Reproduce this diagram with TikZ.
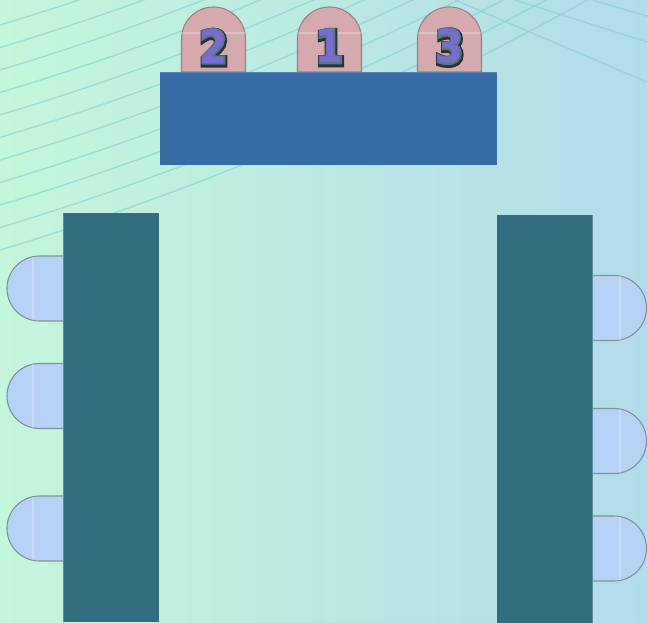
\documentclass[tikz,border=0pt]{standalone}
\usepackage{fontspec}
\newfontfamily\digfont{DejaVu Sans Bold}
\newfontfamily\digmidfont{DejaVu Sans Bold}[FakeBold=7]
\newfontfamily\digoutfont{DejaVu Sans Bold}[FakeBold=14]
\definecolor{bgleft}{RGB}{196,246,219}
\definecolor{bgright}{RGB}{178,220,234}
\definecolor{bgline}{RGB}{130,205,212}
\definecolor{toptable}{RGB}{56,108,166}
\definecolor{sidetable}{RGB}{51,110,128}
\definecolor{pinkchair}{RGB}{212,170,174}
\definecolor{pinkedge}{RGB}{150,130,134}
\definecolor{bluechair}{RGB}{182,210,245}
\definecolor{blueedge}{RGB}{128,144,160}
\definecolor{digfill}{RGB}{120,108,204}
\definecolor{digmid}{RGB}{90,118,128}
\definecolor{digdark}{RGB}{38,52,58}
\tikzset{
  bgrule/.style={draw=bgline, line width=1.1pt, opacity=0.55},
  topchairstyle/.style={fill=pinkchair, draw=pinkedge, line width=0.8pt},
  sidechairstyle/.style={fill=bluechair, draw=blueedge, line width=0.8pt},
  digitstyle/.style={font=\fontsize{34}{34}\selectfont, inner sep=0pt, xscale=0.88},
  sheen/.style={draw=white, line width=1pt, opacity=0.25}
}
\newcommand\layereddigit[1]{%
  \makebox[0pt]{\hspace{1pt}\raisebox{-1pt}{\color{digdark}\digoutfont #1}}%
  \makebox[0pt]{\color{digmid}\digmidfont #1}%
  \makebox[0pt]{\color{digfill}\digfont #1}}
\newcommand\topchair[2]{%
  \begin{scope}[shift={(#1,0)}]
    \draw[topchairstyle] (-32,72) -- (-32,39) .. controls (-32,21.3) and (-17.7,7) .. (0,7)
      .. controls (17.7,7) and (32,21.3) .. (32,39) -- (32,72) -- cycle;
    \draw[sheen] (-31.5,33) -- (31.5,33);
    \node[digitstyle] (digit#2) at (0,47) {\layereddigit{#2}};
  \end{scope}}
\newcommand\leftchair[1]{%
  \begin{scope}[shift={(0,#1)}]
    \draw[sidechairstyle] (66,0) -- (39.5,0) .. controls (21.55,0) and (7,14.55) .. (7,32.5)
      .. controls (7,50.45) and (21.55,65) .. (39.5,65) -- (66,65);
    \draw[sheen] (33,0.6) -- (33,64.4);
  \end{scope}}
\newcommand\rightchair[1]{%
  \begin{scope}[shift={(0,#1)}]
    \draw[sidechairstyle] (590,0) -- (614,0) .. controls (631.95,0) and (646.5,14.55) .. (646.5,32.5)
      .. controls (646.5,50.45) and (631.95,65) .. (614,65) -- (590,65);
    \draw[sheen] (620,0.6) -- (620,64.4);
  \end{scope}}
\begin{document}
\begin{tikzpicture}[x=0.75pt,y=-0.75pt]
  \useasboundingbox (0,0) rectangle (647,623);
  \begin{scope}
    \clip (0,0) rectangle (647,623);
    \shade[left color=bgleft, right color=bgright] (0,0) rectangle (647,623);
    \foreach \yy in {25,47.5,70,92.5,115,137.5,160,182.5,205,227.5,250}{
      \draw[bgrule] plot[domain=0:647, samples=40, smooth] (\x, {\yy - 0.3*\x - 0.00022*\x*\x});
    }
    \draw[bgrule] (455,0) -- (647,82);
    \draw[bgrule] (515,0) -- (647,42);
    \draw[bgrule] (592,0) -- (647,16);
  \end{scope}
  % chairs at the top table
  \topchair{213.5}{2}
  \topchair{329.5}{1}
  \topchair{449.5}{3}
  % chairs at the side tables
  \leftchair{256}
  \leftchair{363.5}
  \leftchair{496}
  \rightchair{275.5}
  \rightchair{408.5}
  \rightchair{516}
  % tables
  \fill[toptable] (160,72) rectangle (497,165);
  \fill[sidetable] (63,213) rectangle (159,622);
  \draw[white, opacity=0.2, line width=0.8pt] (63.5,213) -- (63.5,622);
  \fill[sidetable] (497,215) rectangle (593,623);
  \draw[white, opacity=0.2, line width=0.8pt] (592.5,215) -- (592.5,623);
  \draw[white, opacity=0.15, line width=0.8pt] (160,72.5) -- (497,72.5);
\end{tikzpicture}
\end{document}
